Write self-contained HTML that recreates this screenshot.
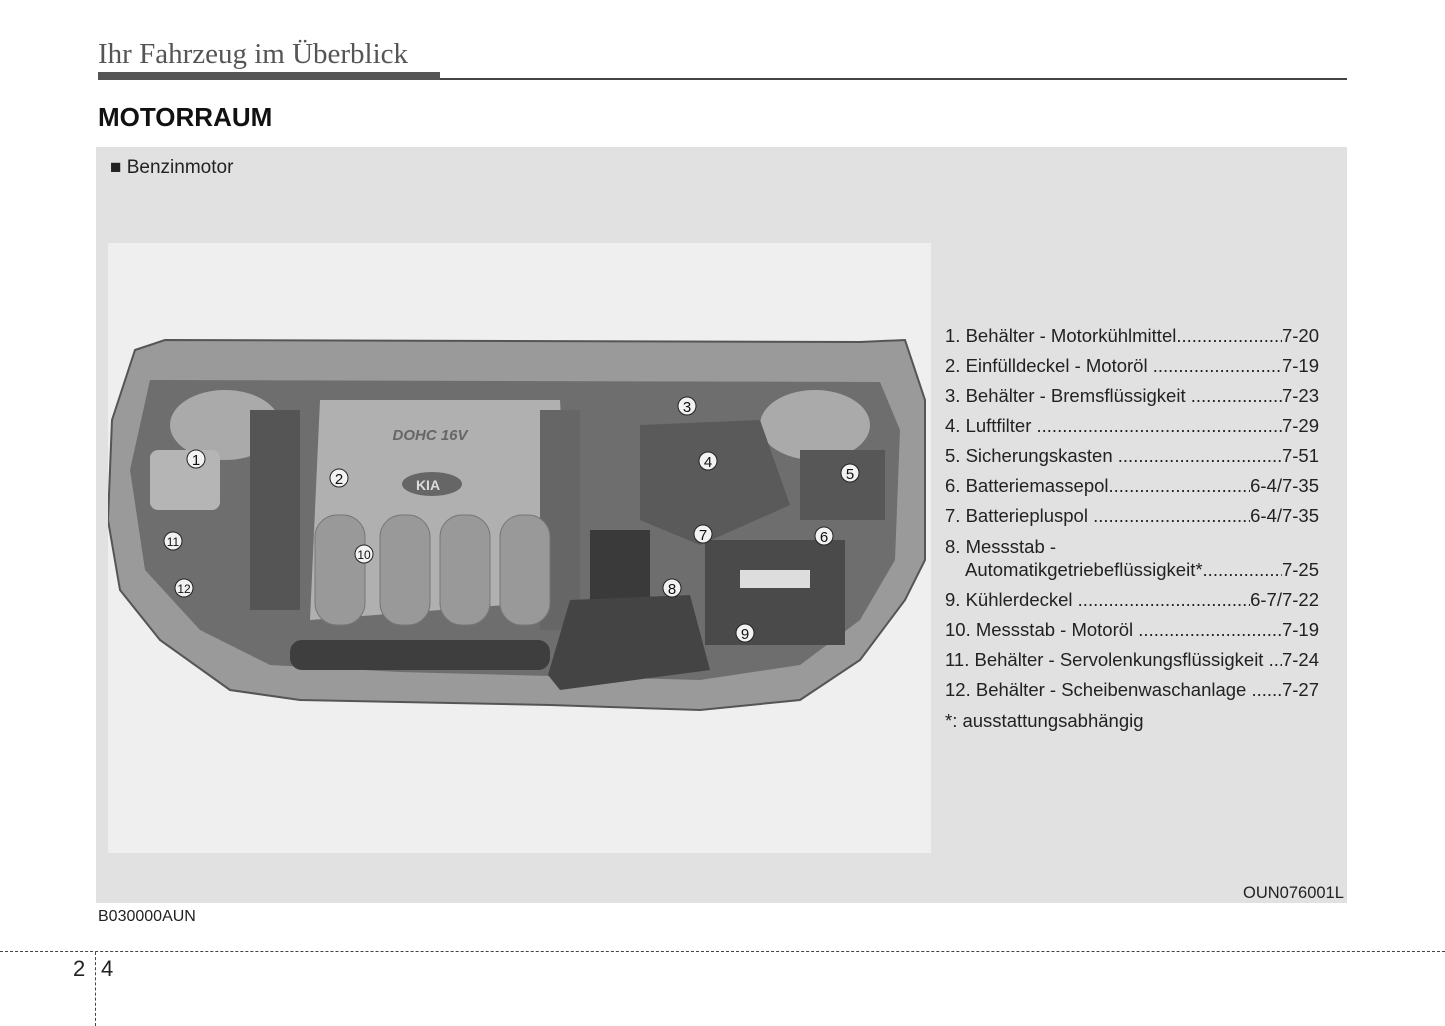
<!DOCTYPE html>
<html><head><meta charset="utf-8"><style>
body{margin:0;width:1445px;height:1026px;background:#fff;position:relative;overflow:hidden;font-family:"Liberation Sans",sans-serif;}
.a{position:absolute;white-space:nowrap}
.li{position:absolute;left:945px;width:374px;font-size:18.5px;color:#222;white-space:nowrap;display:flex}
.li .d{flex:1;overflow:hidden;min-width:0}
.li .d::before{content:"....................................................................................................";}
</style></head><body>
<div class="a" style="left:98px;top:38px;font-family:'Liberation Serif',serif;font-size:29px;color:#555">Ihr Fahrzeug im Überblick</div>
<div class="a" style="left:98px;top:72px;width:342px;height:8px;background:#555"></div>
<div class="a" style="left:440px;top:78px;width:907px;height:2px;background:#444"></div>
<div class="a" style="left:98px;top:102px;font-size:26px;font-weight:bold;color:#111">MOTORRAUM</div>
<div class="a" style="left:96px;top:147px;width:1251px;height:756px;background:#e1e1e1"></div>
<div class="a" style="left:110px;top:157px;font-size:19px;color:#222">■ Benzinmotor</div>
<div class="a" style="left:108px;top:243px;width:823px;height:610px;background:#efefef"></div>
<svg class="a" style="left:108px;top:243px" width="823" height="610" viewBox="108 243 823 610">
<path d="M135 350 L165 340 L860 342 L905 340 L925 400 L925 560 L905 600 L860 660 L800 700 L700 710 L550 705 L300 700 L230 690 L160 640 L120 590 L108 520 L112 420 Z" fill="#9a9a9a" stroke="#555" stroke-width="2"/>
<path d="M150 380 L880 382 L900 430 L895 560 L860 620 L800 665 L700 680 L400 672 L270 665 L200 630 L145 570 L130 470 Z" fill="#6e6e6e"/>
<ellipse cx="225" cy="425" rx="55" ry="35" fill="#aaa"/>
<ellipse cx="815" cy="425" rx="55" ry="35" fill="#aaa"/>
<rect x="150" y="450" width="70" height="60" rx="8" fill="#b5b5b5"/>
<path d="M320 400 L560 400 L570 600 L310 620 Z" fill="#b0b0b0"/>
<rect x="250" y="410" width="50" height="200" fill="#555"/>
<rect x="540" y="410" width="40" height="220" fill="#666"/>
<g fill="#999" stroke="#777"><rect x="315" y="515" width="50" height="110" rx="22"/><rect x="380" y="515" width="50" height="110" rx="22"/><rect x="440" y="515" width="50" height="110" rx="22"/><rect x="500" y="515" width="50" height="110" rx="22"/></g>
<ellipse cx="432" cy="484" rx="30" ry="12" fill="#666"/>
<text x="428" y="490" font-family="Liberation Sans" font-size="14" font-weight="bold" fill="#ddd" text-anchor="middle">KIA</text>
<text x="430" y="440" font-family="Liberation Sans" font-size="15" font-style="italic" font-weight="bold" fill="#666" text-anchor="middle">DOHC 16V</text>
<path d="M640 425 L760 420 L790 505 L700 545 L640 520 Z" fill="#5a5a5a"/>
<rect x="800" y="450" width="85" height="70" fill="#575757"/>
<rect x="705" y="540" width="140" height="105" fill="#4a4a4a"/>
<rect x="740" y="570" width="70" height="18" fill="#ddd"/>
<rect x="590" y="530" width="60" height="80" fill="#3a3a3a"/>
<path d="M570 600 L690 595 L710 670 L560 690 L548 675 Z" fill="#444"/>
<rect x="290" y="640" width="260" height="30" rx="12" fill="#3e3e3e"/>
<g font-family="Liberation Sans" font-size="15" text-anchor="middle" fill="#111">
<g fill="#f2f2f2" stroke="#222" stroke-width="1"><circle cx="196" cy="459" r="9"/><circle cx="339" cy="478" r="9"/><circle cx="687" cy="406" r="9"/><circle cx="708" cy="461" r="9"/><circle cx="850" cy="473" r="9"/><circle cx="824" cy="536" r="9"/><circle cx="703" cy="534" r="9"/><circle cx="672" cy="588" r="9"/><circle cx="745" cy="633" r="9"/><circle cx="364" cy="554" r="9"/><circle cx="173" cy="541" r="9"/><circle cx="184" cy="588" r="9"/></g>
<text x="196" y="465">1</text><text x="339" y="484">2</text><text x="687" y="412">3</text><text x="708" y="467">4</text><text x="850" y="479">5</text><text x="824" y="542">6</text><text x="703" y="540">7</text><text x="672" y="594">8</text><text x="745" y="639">9</text><text x="364" y="559" font-size="12">10</text><text x="173" y="546" font-size="12">11</text><text x="184" y="593" font-size="12">12</text>
</g>
</svg>
<div class="li" style="top:325px"><span>1. Behälter - Motorkühlmittel</span><span class="d"></span><span>7-20</span></div>
<div class="li" style="top:355px"><span>2. Einfülldeckel - Motoröl&nbsp;</span><span class="d"></span><span>7-19</span></div>
<div class="li" style="top:385px"><span>3. Behälter - Bremsflüssigkeit&nbsp;</span><span class="d"></span><span>7-23</span></div>
<div class="li" style="top:415px"><span>4. Luftfilter&nbsp;</span><span class="d"></span><span>7-29</span></div>
<div class="li" style="top:445px"><span>5. Sicherungskasten&nbsp;</span><span class="d"></span><span>7-51</span></div>
<div class="li" style="top:475px"><span>6. Batteriemassepol</span><span class="d"></span><span>6-4/7-35</span></div>
<div class="li" style="top:505px"><span>7. Batteriepluspol&nbsp;</span><span class="d"></span><span>6-4/7-35</span></div>
<div class="li" style="top:536px"><span>8. Messstab -</span></div>
<div class="li" style="top:559px;left:965px;width:354px"><span>Automatikgetriebeflüssigkeit*</span><span class="d"></span><span>7-25</span></div>
<div class="li" style="top:589px"><span>9. Kühlerdeckel&nbsp;</span><span class="d"></span><span>6-7/7-22</span></div>
<div class="li" style="top:619px"><span>10. Messstab - Motoröl&nbsp;</span><span class="d"></span><span>7-19</span></div>
<div class="li" style="top:649px"><span>11. Behälter - Servolenkungsflüssigkeit&nbsp;</span><span class="d"></span><span>7-24</span></div>
<div class="li" style="top:679px"><span>12. Behälter - Scheibenwaschanlage&nbsp;</span><span class="d"></span><span>7-27</span></div>
<div class="li" style="top:710px"><span>*: ausstattungsabhängig</span></div>
<div class="a" style="left:1243px;top:884px;font-size:16.5px;color:#222">OUN076001L</div>
<div class="a" style="left:98px;top:908px;font-size:16px;color:#222">B030000AUN</div>
<div class="a" style="left:0;top:951px;width:1445px;border-top:1.5px dashed #444"></div>
<div class="a" style="left:95px;top:952px;height:74px;border-left:1.5px dashed #444"></div>
<div class="a" style="left:73px;top:956px;font-size:22px;color:#222">2</div>
<div class="a" style="left:101px;top:956px;font-size:22px;color:#222">4</div>
</body></html>
